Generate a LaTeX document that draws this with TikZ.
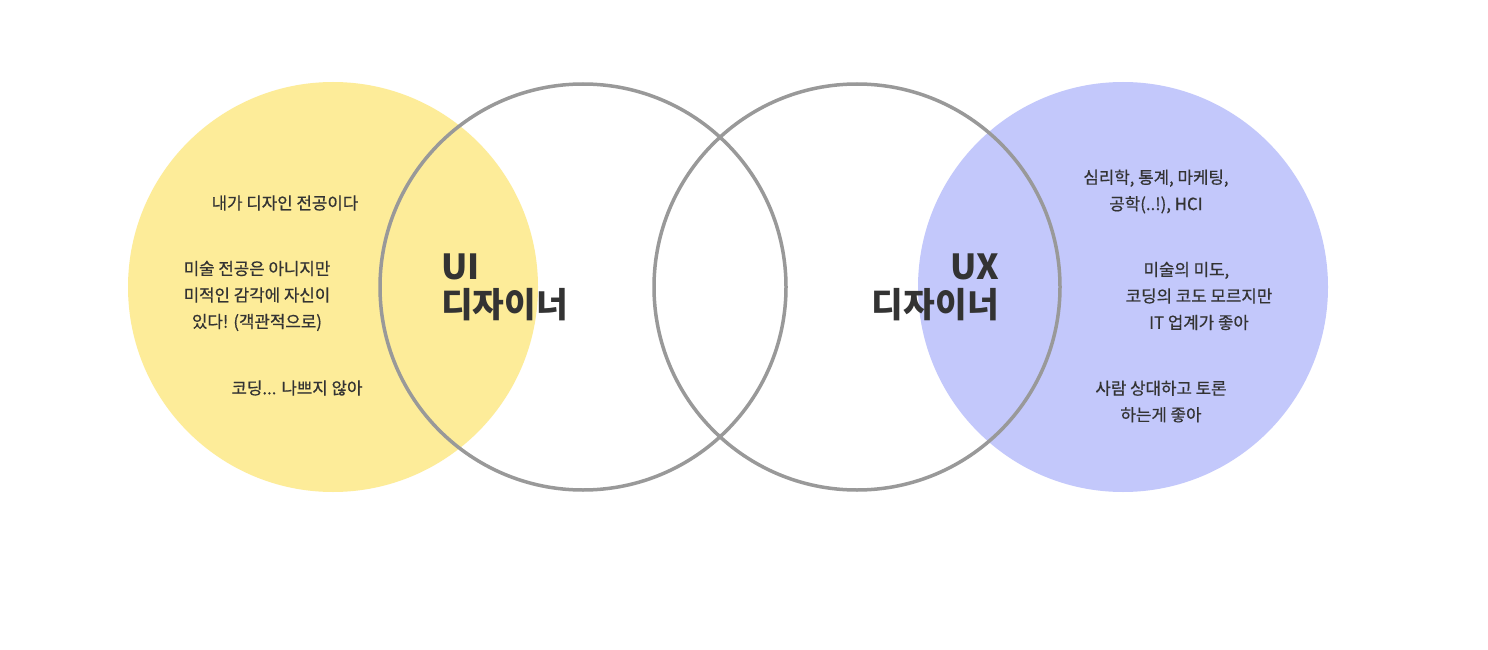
\documentclass[tikz,border=0pt]{standalone}
\usepackage{fontspec}
\setmainfont{Noto Sans CJK KR}
\newfontfamily\medfont[FakeBold=0.6]{Noto Sans CJK KR}
\definecolor{uiyellow}{HTML}{FDEC99}
\definecolor{uxblue}{HTML}{C3C8FB}
\definecolor{ringgray}{HTML}{999999}
\definecolor{txt}{HTML}{333333}
\tikzset{
  small/.style={text=txt, font=\medfont\fontsize{16.8}{26.5}\selectfont, align=center, inner sep=0pt},
  big/.style={text=txt, font=\bfseries\fontsize{34.5}{38}\selectfont, inner sep=0pt},
  ring/.style={draw=ringgray, line width=3.5pt}
}
\begin{document}
\begin{tikzpicture}[x=1pt,y=-1pt]
\path[use as bounding box, fill=white] (0,0) rectangle (1488,650);
\fill[uiyellow] (333,287) circle[radius=205pt];
\fill[uxblue] (1123,287) circle[radius=205pt];
\draw[ring] (583,287) circle[radius=203pt];
\draw[ring] (857,287) circle[radius=203pt];
\node[coordinate] (c1) at (583,287) {};
\node[coordinate] (c2) at (857,287) {};
% left texts
\node[small] (l1) at (285,203) {내가 디자인 전공이다};
\node[small] (l2) at (257,296) {미술 전공은 아니지만\\미적인 감각에 자신이\\있다! (객관적으로)};
\node[small] (l3) at (297,388) {코딩... 나쁘지 않아};
% right texts
\node[small] (r1) at (1156,191.5) {심리학, 통계, 마케팅,\\공학(..!), HCI};
\node[small] (r2) at (1199,296) {\hspace*{-1.5em}미술의 미도,\\코딩의 코도 모르지만\\IT 업계가 좋아};
\node[small] (r3) at (1161,401.5) {사람 상대하고 토론\\하는게 좋아};
% big labels
\node[big, anchor=west] (ui1) at (441,267) {UI};
\node[big, anchor=west] (ui2) at (441,305) {디자이너};
\node[big, anchor=east] (ux1) at (999,267) {UX};
\node[big, anchor=east] (ux2) at (999,305) {디자이너};
\end{tikzpicture}
\end{document}
